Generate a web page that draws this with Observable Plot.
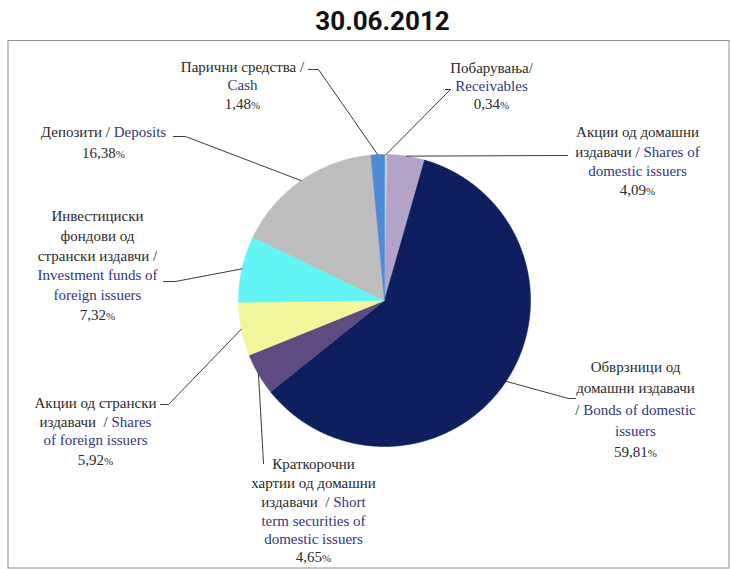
<!DOCTYPE html>
<html><head><meta charset="utf-8">
<script src="https://cdn.jsdelivr.net/npm/d3@7"></script>
<script src="https://cdn.jsdelivr.net/npm/@observablehq/plot@0.6"></script>
<style>body{margin:0;background:#fff;}#chart svg{display:block;}</style>
</head><body><div id="chart"></div>
<script>
// ---------- data ----------
const title = "30.06.2012";
const categoriesEn = ["Receivables", "Shares of domestic issuers", "Bonds of domestic issuers",
  "Short term securities of domestic issuers", "Shares of foreign issuers",
  "Investment funds of foreign issuers", "Deposits", "Cash"];
const values = [0.34, 4.09, 59.81, 4.65, 5.92, 7.32, 16.38, 1.48];
// label text: lines -> segments [text, language]  (mk = black, en = blue)
const labelText = [
  [[["Побарувања/", "mk"]], [["Receivables", "en"]]],
  [[["Акции од домашни", "mk"]], [["издавачи /", "mk"], ["Shares of", "en"]], [["domestic issuers", "en"]]],
  [[["Обврзници од", "mk"]], [["домашни издавачи", "mk"]], [["/", "mk"], ["Bonds of domestic", "en"]], [["issuers", "en"]]],
  [[["Краткорочни", "mk"]], [["хартии од домашни", "mk"]], [["издавачи  /", "mk"], ["Short", "en"]], [["term securities of", "en"]], [["domestic issuers", "en"]]],
  [[["Акции од странски", "mk"]], [["издавачи  /", "mk"], ["Shares", "en"]], [["of foreign issuers", "en"]]],
  [[["Инвестициски", "mk"]], [["фондови од", "mk"]], [["странски издавчи /", "mk"]], [["Investment funds of", "en"]], [["foreign issuers", "en"]]],
  [[["Депозити /", "mk"], ["Deposits", "en"]]],
  [[["Парични средства /", "mk"]], [["Cash", "en"]]]
];

// ---------- styles & layout ----------
const sliceColors = ["#c3d6bd", "#b3a3c9", "#0d1f5e", "#5e4b7f", "#f1f59c", "#63f5f5", "#bdbdbd", "#4f8ad6"];
const textColors = {mk: "#2a2a2a", en: "#35357e", pct: "#2a2a2a"};
const W = 730, H = 569;
const cx = 384, cy = 300, R = 146;
const labelFamily = "'Liberation Serif', 'DejaVu Serif', serif";
const fontSizes = {mk: 15, en: 15, pct: 11};
// label block: center x, line center ys (px); leader path points after the slice edge (px)
const labelLayout = [
  {x: 491, ys: [68, 86, 104], leader: [[450, 89], [445, 89]]},
  {x: 637, ys: [132, 152, 171, 190], leader: [[567, 155]]},
  {x: 635, ys: [367, 388, 410, 431, 452], leader: [[568, 398], [575, 398]]},
  {x: 313, ys: [464, 483, 502, 521, 539, 557], leader: [[263, 463]]},
  {x: 95, ys: [403, 422, 440, 460], leader: [[168, 404], [160, 404]]},
  {x: 97, ys: [216, 236, 256, 275, 295, 315], leader: [[175, 281], [163, 281]]},
  {x: 103, ys: [132, 153], leader: [[185, 136], [173, 136]]},
  {x: 242, ys: [67, 85, 104], leader: [[318, 69], [308, 69]]}
];

// ---------- derived ----------
const ux = px => (px - cx) / R;
const uy = py => (cy - py) / R;
const arcs = d3.pie().sort(null).value(d => d)(values);

const slicePts = [];
arcs.forEach((a, k) => {
  slicePts.push({x: 0, y: 0, k});
  const n = Math.max(2, Math.ceil((a.endAngle - a.startAngle) / 0.005));
  for (let j = 0; j <= n; j++) {
    const t = a.startAngle + (a.endAngle - a.startAngle) * j / n;
    slicePts.push({x: Math.sin(t), y: Math.cos(t), k});
  }
  slicePts.push({x: 0, y: 0, k});
});

const leaderPts = [];
arcs.forEach((a, k) => {
  const m = (a.startAngle + a.endAngle) / 2;
  leaderPts.push({x: Math.sin(m), y: Math.cos(m), k});
  labelLayout[k].leader.forEach(([px, py]) => leaderPts.push({x: ux(px), y: uy(py), k}));
});

const ctx = document.createElement("canvas").getContext("2d");
const measure = (t, kind) => { ctx.font = `${fontSizes[kind]}px ${labelFamily}`; return ctx.measureText(t).width; };
const spaceW = measure(" ", "mk");
const textSegs = [];
labelText.forEach((lines, k) => {
  const L = labelLayout[k];
  const pctLine = [[values[k].toFixed(2).replace(".", ","), "mk"], ["%", "pct", true]];
  const allLines = [...lines, pctLine];
  allLines.forEach((segs, i) => {
    const widths = segs.map(s => measure(s[0], s[1]));
    const gaps = segs.map((s, j) => (j === 0 || s[2]) ? 0 : spaceW);
    const total = d3.sum(widths) + d3.sum(gaps);
    let off = L.x - total / 2;
    segs.forEach((s, j) => {
      off += gaps[j];
      textSegs.push({x: ux(off), y: uy(L.ys[i] + (s[1] === "pct" ? 1 : 0)), text: s[0],
        color: textColors[s[1]], size: fontSizes[s[1]]});
      off += widths[j];
    });
  });
});

const chart = Plot.plot({
  width: W, height: H, margin: 0,
  x: {domain: [-1, 1], range: [cx - R, cx + R], axis: null},
  y: {domain: [-1, 1], range: [cy + R, cy - R], axis: null},
  color: {type: "identity"},
  style: {background: "#fff"},
  marks: [
    Plot.frame({stroke: "#8f8f8f", insetTop: 40, insetLeft: 7.5, insetRight: 1.5, insetBottom: 1.5}),
    Plot.text([title], {frameAnchor: "top", lineAnchor: "middle", dx: 17, dy: 21, text: d => d,
      fontFamily: "Roboto, 'Liberation Sans', sans-serif",
      fontWeight: "bold", fontSize: 26, fill: "#111"}),
    Plot.line(slicePts, {x: "x", y: "y", z: "k", fill: d => sliceColors[d.k], stroke: d => sliceColors[d.k], strokeWidth: 0.6}),
    Plot.line(leaderPts, {x: "x", y: "y", z: "k", stroke: "#3c3c3c", strokeWidth: 1}),
    Plot.text(textSegs, {x: "x", y: "y", text: "text", fill: "color", fontSize: "size", textAnchor: "start",
      fontFamily: labelFamily})
  ]
});
document.getElementById("chart").append(chart);
</script>
</body></html>
